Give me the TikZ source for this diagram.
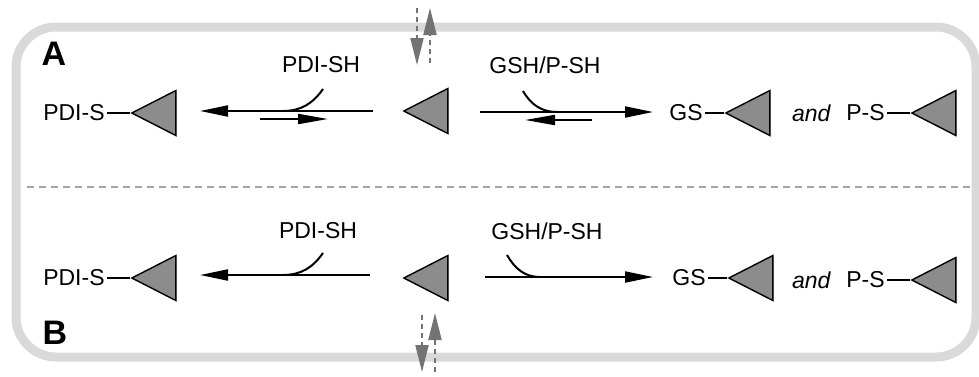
\documentclass[tikz,border=0pt]{standalone}
\usepackage{fontspec}
\setmainfont{Liberation Sans}
\usetikzlibrary{shapes.geometric, arrows.meta, positioning, shadows}
\tikzstyle{arrow} = [line width=1pt, -{Triangle[length=14pt, width=5.5pt]}]

\begin{document}
\begin{tikzpicture}[
	x=0.5pt, y=-0.5pt,
	tri/.style={isosceles triangle, shape border rotate=180, isosceles triangle stretches, draw=black, fill=black!45, line width=0.7pt, minimum width=22.5pt, minimum height=22pt, inner sep=0pt, anchor=apex, drop shadow={shadow xshift=0.7pt, shadow yshift=-0.7pt, opacity=0.25}},
	lbl/.style={inner sep=1pt, font=\fontsize{11.5}{13}\selectfont},
	tag/.style={inner sep=0pt, font=\fontsize{17}{19}\selectfont\bfseries},
	hook/.style={line width=1pt},
	back/.style={line width=1pt, -{Triangle[length=15pt, width=5pt]}},
	pass/.style={black!55, line width=1pt, dash pattern=on 2.5pt off 2pt, -{Triangle[length=13.5pt, width=6.5pt]}}
]
\useasboundingbox (0,0) rectangle (979,376);

% Cell frame and divider
\draw[black!15, line width=4.5pt, rounded corners=20pt] (16,27) rectangle (976,357);
\draw[black!35, line width=1pt, dash pattern=on 3.5pt off 2.5pt] (27,187) -- (970,187);

\node[tag] (tagA) at (54,54) {A};
\node[tag] (tagB) at (55,333) {B};

% Panel A: species
\node[tri] (triA1) at (130,113) {};
\node[tri] (triA2) at (402,111) {};
\node[tri] (triA3) at (724,113) {};
\node[tri] (triA4) at (910,113) {};
\node[lbl, left=11.5pt of triA1.apex] (pdisA) {PDI-S};
\node[lbl, left=9.5pt of triA3.apex] (gsA) {GS};
\node[lbl, left=11.5pt of triA4.apex] (psA) {P-S};
\node[lbl, left=5.5pt of psA, font=\fontsize{11.5}{13}\selectfont\itshape] (andA) {and};
\draw[line width=1pt] (pdisA.east) -- (triA1.apex);
\draw[line width=1pt] (gsA.east) -- (triA3.apex);
\draw[line width=1pt] (psA.east) -- (triA4.apex);

% Panel A: reversible steps
\node[lbl] (pdishA) at (321,65) {PDI-SH};
\node[lbl] (gshA) at (545,65) {GSH/P-SH};
\coordinate (lfromA) at (373,111);
\coordinate (ltoA) at (200,111);
\coordinate (ljoinA) at (283,111);
\coordinate (lhookA) at (323,89);
\coordinate (lbackA1) at (260,119);
\coordinate (lbackA2) at (328,119);
\draw[arrow] (lfromA) -- (ltoA);
\draw[hook] (ljoinA) to[out=0, in=235] (lhookA);
\draw[back] (lbackA1) -- (lbackA2);
\coordinate (rfromA) at (480,112);
\coordinate (rtoA) at (653,112);
\coordinate (rhookA) at (523,91);
\coordinate (rjoinA) at (557,112);
\coordinate (rbackA1) at (592,120);
\coordinate (rbackA2) at (525,120);
\draw[arrow] (rfromA) -- (rtoA);
\draw[hook] (rhookA) to[out=-60, in=180] (rjoinA);
\draw[back] (rbackA1) -- (rbackA2);

% Panel B: species
\node[tri] (triB1) at (130,278) {};
\node[tri] (triB2) at (402,278) {};
\node[tri] (triB3) at (727,278) {};
\node[tri] (triB4) at (910,280) {};
\node[lbl, left=11.5pt of triB1.apex] (pdisB) {PDI-S};
\node[lbl, left=9.5pt of triB3.apex] (gsB) {GS};
\node[lbl, left=11.5pt of triB4.apex] (psB) {P-S};
\node[lbl, left=5.5pt of psB, font=\fontsize{11.5}{13}\selectfont\itshape] (andB) {and};
\draw[line width=1pt] (pdisB.east) -- (triB1.apex);
\draw[line width=1pt] (gsB.east) -- (triB3.apex);
\draw[line width=1pt] (psB.east) -- (triB4.apex);

% Panel B: one-way steps
\node[lbl] (pdishB) at (318,231) {PDI-SH};
\node[lbl] (gshB) at (547,231) {GSH/P-SH};
\coordinate (lfromB) at (370,275);
\coordinate (ltoB) at (200,275);
\coordinate (ljoinB) at (283,275);
\coordinate (lhookB) at (323,253);
\draw[arrow] (lfromB) -- (ltoB);
\draw[hook] (ljoinB) to[out=0, in=235] (lhookB);
\coordinate (rfromB) at (485,277);
\coordinate (rtoB) at (653,277);
\coordinate (rhookB) at (507,255);
\coordinate (rjoinB) at (540,277);
\draw[arrow] (rfromB) -- (rtoB);
\draw[hook] (rhookB) to[out=-60, in=180] (rjoinB);

% Exchange across the membrane
\coordinate (inT1) at (417,8);
\coordinate (inT2) at (417,65);
\coordinate (outT1) at (430,63);
\coordinate (outT2) at (430,8);
\draw[pass] (inT1) -- (inT2);
\draw[pass] (outT1) -- (outT2);
\coordinate (inB1) at (422,315);
\coordinate (inB2) at (422,372);
\coordinate (outB1) at (435,372);
\coordinate (outB2) at (435,313);
\draw[pass] (inB1) -- (inB2);
\draw[pass] (outB1) -- (outB2);
\end{tikzpicture}
\end{document}
